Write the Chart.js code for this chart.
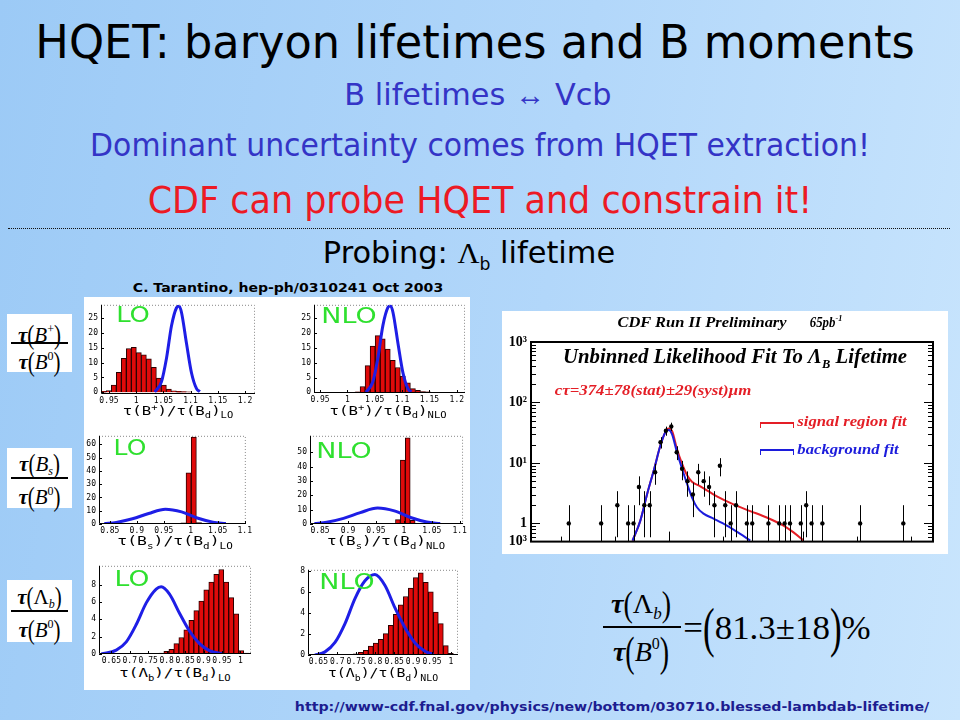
<!DOCTYPE html>
<html>
<head>
<meta charset="utf-8">
<script src="https://cdn.jsdelivr.net/npm/chart.js@4.4.0/dist/chart.umd.min.js"></script>
<style>
html, body { margin: 0; padding: 0; }
body {
    width: 960px; height: 720px; overflow: hidden; position: relative;
    background: linear-gradient(100deg, #9ccaf6 0%, #b2d7fa 55%, #c9e5fd 100%);
    font-family: "DejaVu Sans", sans-serif;
}
.txt { position: absolute; white-space: nowrap; line-height: 1; transform: translate(-50%, -50%); }
.white { position: absolute; background: #fff; }
canvas { position: absolute; }
.green { color: #2fe02f; font-size: 22px; }
.axl { font-family: "DejaVu Sans Mono", monospace; font-size: 12px; color: #000; }
.axl sub { font-size: 8px; }
.axl sup { font-size: 8px; }
.serif { font-family: "Liberation Serif", serif; }
.fbox { position: absolute; background: #fff; display: flex; flex-direction: column; align-items: center; justify-content: center; font-family: "Liberation Serif", serif; font-size: 21px; }
.fr { height: 25px; line-height: 25px; white-space: nowrap; }
.fl { width: 57px; height: 1.5px; background: #000; }
.p { display: inline-block; transform: scaleY(1.3); }
.t { font-style: italic; font-weight: bold; }
.fr sup { font-size: 12px; vertical-align: 9px; }
.fr sub { font-size: 12px; vertical-align: -4px; }
.leg { position: absolute; height: 4px; width: 32px; border-style: solid; border-width: 2px 1.5px 0 1.5px; }
</style>
</head>
<body>

<!-- heading texts -->
<div class="txt fit" data-w="880" style="left:475px;top:42px;font-size:46px;color:#000">HQET: baryon lifetimes and B moments</div>
<div class="txt fit" data-w="267" style="left:478px;top:95px;font-size:30px;color:#3434c6">B lifetimes <span class="serif">&harr;</span> Vcb</div>
<div class="txt fit" data-w="780" style="left:480px;top:145px;font-size:32px;color:#3434c6">Dominant uncertainty comes from HQET extraction!</div>
<div class="txt fit" data-w="664" style="left:480px;top:200px;font-size:38px;color:#ec1a24">CDF can probe HQET and constrain it!</div>
<div style="position:absolute;left:8px;top:228px;width:942px;border-top:1.5px dotted #111"></div>
<div class="txt fit" data-w="292" style="left:469px;top:255px;font-size:30px;color:#000">Probing: <span class="serif">&Lambda;</span><sub style="font-size:17px">b</sub> lifetime</div>
<div class="txt fit" data-w="310" style="left:288px;top:288px;font-size:12px;font-weight:bold;color:#000">C. Tarantino, hep-ph/0310241 Oct 2003</div>

<!-- left formula boxes -->
<div class="fbox" style="left:7px;top:314px;width:65px;height:58px">
  <div class="fr"><span class="t">&tau;</span><span class="p">(</span><i>B</i><sup>+</sup><span class="p">)</span></div>
  <div class="fl"></div>
  <div class="fr"><span class="t">&tau;</span><span class="p">(</span><i>B</i><sup>0</sup><span class="p">)</span></div>
</div>
<div class="fbox" style="left:7px;top:448px;width:65px;height:60px">
  <div class="fr"><span class="t">&tau;</span><span class="p">(</span><i>B</i><sub><i>s</i></sub><span class="p">)</span></div>
  <div class="fl"></div>
  <div class="fr"><span class="t">&tau;</span><span class="p">(</span><i>B</i><sup>0</sup><span class="p">)</span></div>
</div>
<div class="fbox" style="left:7px;top:580px;width:65px;height:62px">
  <div class="fr"><span class="t">&tau;</span><span class="p">(</span>&Lambda;<sub><i>b</i></sub><span class="p">)</span></div>
  <div class="fl"></div>
  <div class="fr"><span class="t">&tau;</span><span class="p">(</span><i>B</i><sup>0</sup><span class="p">)</span></div>
</div>

<!-- histogram panel -->
<div class="white" style="left:84px;top:297px;width:386px;height:393px"></div>
<canvas id="h1"></canvas>
<canvas id="h2"></canvas>
<canvas id="h3"></canvas>
<canvas id="h4"></canvas>
<canvas id="h5"></canvas>
<canvas id="h6"></canvas>

<div class="txt fit green" data-w="34" style="left:133px;top:315px">LO</div>
<div class="txt fit green" data-w="55" style="left:349px;top:316px">NLO</div>
<div class="txt fit green" data-w="33" style="left:130px;top:448px">LO</div>
<div class="txt fit green" data-w="55" style="left:344px;top:451px">NLO</div>
<div class="txt fit green" data-w="35" style="left:132px;top:579px">LO</div>
<div class="txt fit green" data-w="55" style="left:347px;top:582px">NLO</div>

<div class="txt fit axl" data-w="110" style="left:178px;top:412px">&tau;(B<sup>+</sup>)/&tau;(B<sub>d</sub>)<sub>LO</sub></div>
<div class="txt fit axl" data-w="117" style="left:388px;top:412px">&tau;(B<sup>+</sup>)/&tau;(B<sub>d</sub>)<sub>NLO</sub></div>
<div class="txt fit axl" data-w="115" style="left:175px;top:543px">&tau;(B<sub>s</sub>)/&tau;(B<sub>d</sub>)<sub>LO</sub></div>
<div class="txt fit axl" data-w="118" style="left:386px;top:543px">&tau;(B<sub>s</sub>)/&tau;(B<sub>d</sub>)<sub>NLO</sub></div>
<div class="txt fit axl" data-w="111" style="left:175px;top:675px">&tau;(&Lambda;<sub>b</sub>)/&tau;(B<sub>d</sub>)<sub>LO</sub></div>
<div class="txt fit axl" data-w="110" style="left:383px;top:675px">&tau;(&Lambda;<sub>b</sub>)/&tau;(B<sub>d</sub>)<sub>NLO</sub></div>

<!-- CDF plot -->
<div class="white" style="left:502px;top:311px;width:446px;height:243px"></div>
<canvas id="cdf"></canvas>
<div class="txt fit serif" data-w="169" style="left:702px;top:323px;font-size:14px;font-weight:bold;font-style:italic">CDF Run II Preliminary</div>
<div class="txt fit serif" data-w="33" style="left:826px;top:322px;font-size:14px;font-weight:bold;font-style:italic">65pb<sup style="font-size:9px">-1</sup></div>
<div class="txt fit serif" data-w="344" style="left:735px;top:358px;font-size:20px;font-weight:bold;font-style:italic">Unbinned Likelihood Fit To &Lambda;<sub style="font-size:12px">B</sub> Lifetime</div>
<div class="txt fit serif" data-w="197" style="left:653px;top:391px;font-size:14px;font-weight:bold;font-style:italic;color:#e41e26">c&tau;=374&plusmn;78(stat)&plusmn;29(syst)&micro;m</div>
<div class="leg" style="left:760px;top:422px;border-color:#e41e26"></div>
<div class="txt fit serif" data-w="109" style="left:852px;top:421px;font-size:15px;font-weight:bold;font-style:italic;color:#e41e26">signal region fit</div>
<div class="leg" style="left:760px;top:449px;border-color:#1c1cdc"></div>
<div class="txt fit serif" data-w="101" style="left:848px;top:449px;font-size:15px;font-weight:bold;font-style:italic;color:#1c1cdc">background fit</div>

<!-- result formula -->
<div class="txt serif" style="left:641px;top:606px;font-size:28px"><span class="t">&tau;</span><span class="p">(</span>&Lambda;<sub style="font-size:17px;vertical-align:-6px"><i>b</i></sub><span class="p">)</span></div>
<div style="position:absolute;left:603px;top:626px;width:78px;height:2px;background:#000"></div>
<div class="txt serif" style="left:641px;top:651px;font-size:28px"><span class="t">&tau;</span><span class="p" style="transform:scaleY(1.5)">(</span><i>B</i><sup style="font-size:16px;vertical-align:12px">0</sup><span class="p" style="transform:scaleY(1.5)">)</span></div>
<div class="txt fit serif" data-w="187" style="left:777px;top:628px;font-size:34px">=<span class="p" style="transform:scaleY(1.6)">(</span>81.3&plusmn;18<span class="p" style="transform:scaleY(1.6)">)</span>%</div>

<div class="txt fit" data-w="635" style="left:612px;top:706px;font-size:13px;font-weight:bold;color:#1d1d90">http://www-cdf.fnal.gov/physics/new/bottom/030710.blessed-lambdab-lifetime/</div>

<script>
// ---- tick values / labels ----
const bpTickVals = [0.95, 1, 1.05, 1.1, 1.15, 1.2];
const bpTickLabels = ['0.95', '1', '1.05', '1.1', '1.15', '1.2'];
const bsTickVals = [0.85, 0.9, 0.95, 1, 1.05, 1.1];
const bsTickLabels = ['0.85', '0.9', '0.95', '1', '1.05', '1.1'];
const lbTickVals = [0.65, 0.7, 0.75, 0.8, 0.85, 0.9, 0.95, 1];
const lbTickLabels = ['0.65', '0.7', '0.75', '0.8', '0.85', '0.9', '0.95', '1'];
const bpYTicks = [0, 5, 10, 15, 20, 25];
const bsLoYTicks = [0, 10, 20, 30, 40, 50, 60];
const bsNloYTicks = [0, 10, 20, 30, 40, 50];
const lbYTicks = [0, 2, 4, 6, 8];

// ---- histograms (bin centre / count) ----
const bpLoBinX = [0.9405, 0.9497, 0.9589, 0.9681, 0.9773, 0.9865, 0.9957, 1.0049, 1.0141, 1.0233, 1.0325, 1.0417, 1.0509, 1.0601, 1.0693, 1.0785, 1.0877, 1.0969];
const bpLoBinY = [0.3, 0.6, 2.4, 6.7, 11.5, 14.8, 15.2, 13.4, 12.7, 11.3, 8.4, 4.8, 2.4, 1.1, 0.5, 0.3, 0.2, 0.1];
const bpNloBinX = [1.0186, 1.0278, 1.037, 1.0462, 1.0554, 1.0646, 1.0738, 1.083, 1.0922, 1.1014, 1.1106, 1.1198, 1.129, 1.1382, 1.1474];
const bpNloBinY = [0.2, 2, 9, 15.6, 19.1, 18, 14.6, 10.8, 8.4, 5.5, 3.2, 1.3, 0.7, 0.3, 0.2];
const bsLoBinX = [0.9864, 0.996, 1.0056, 1.0152];
const bsLoBinY = [0.8, 38.6, 65.5, 1];
const bsNloBinX = [0.9806, 0.9894, 0.9982, 1.007, 1.0158, 1.0246];
const bsNloBinY = [0.4, 3, 44.5, 60, 2.6, 0.5];
const lbLoBinX = [0.7722, 0.7857, 0.7992, 0.8128, 0.8263, 0.8398, 0.8533, 0.8669, 0.8804, 0.8939, 0.9074, 0.921, 0.9345, 0.948, 0.9615, 0.975, 0.9886, 1.0021, 1.0156];
const lbLoBinY = [0.05, 0.1, 0.3, 0.55, 1.2, 1.9, 2.8, 3.9, 5.0, 6.1, 7.4, 8.3, 9.2, 9.75, 8.3, 6.5, 4.65, 0.4, 0.1];
const lbNloBinX = [0.7226, 0.7358, 0.7489, 0.7621, 0.7753, 0.7885, 0.8017, 0.8149, 0.8281, 0.8413, 0.8545, 0.8677, 0.8809, 0.8941, 0.9073, 0.9204, 0.9336, 0.9468, 0.96, 0.9732, 0.9864, 0.9996];
const lbNloBinY = [0.05, 0.06, 0.12, 0.25, 0.45, 0.85, 1.15, 1.5, 2.05, 2.85, 3.9, 4.8, 5.6, 6.4, 7.4, 7.85, 6.95, 6.05, 4.1, 3.0, 0.9, 0.15];

// ---- measured curves (blue) ----
const bpCurveX = [1.034, 1.0464, 1.0557, 1.0649, 1.0741, 1.0787, 1.0833, 1.0925, 1.1017, 1.1109, 1.117];
const bpCurveY = [0.1, 3.5, 11.5, 22.5, 28.6, 29.2, 27, 16.5, 6.5, 1.2, 0.2];
const bsCurveX = [0.84, 0.862, 0.892, 0.922, 0.953, 0.983, 1.012, 1.041, 1.065];
const bsCurveY = [0.3, 1.2, 3.9, 7.9, 11.1, 9.1, 4.5, 1.4, 0.3];
const lbLoCurveX = [0.623, 0.6635, 0.6906, 0.7176, 0.7447, 0.7717, 0.7853, 0.8078, 0.8349, 0.8619, 0.889, 0.916, 0.952];
const lbLoCurveY = [0, 0.45, 1.4, 3.4, 5.9, 7.5, 7.75, 6.9, 4.7, 2.65, 1.2, 0.4, 0];
const lbNloCurveX = [0.6412, 0.6676, 0.694, 0.7204, 0.7467, 0.7731, 0.7995, 0.8259, 0.8523, 0.8787, 0.905, 0.9314, 0.9534];
const lbNloCurveY = [0, 0.3, 1.2, 3.0, 5.4, 7.1, 7.7, 6.65, 4.5, 2.6, 1.15, 0.36, 0.05];

// ---- CDF data (ct in cm, events per bin) ----
const cdfX = [-0.074, -0.050, -0.038, -0.030, -0.026, -0.022, -0.018, -0.014, -0.010, -0.006, -0.002, 0.002, 0.006, 0.010, 0.014, 0.018, 0.022, 0.026, 0.030, 0.034, 0.038, 0.042, 0.046, 0.050, 0.058, 0.062, 0.074, 0.082, 0.086, 0.090, 0.098, 0.102, 0.106, 0.114, 0.142, 0.174];
const cdfY = [1, 1, 2, 1, 1, 4, 2, 2, 7, 22, 34, 40, 15, 8, 5, 3, 7, 5, 4, 2, 9, 2, 1, 2, 1, 1, 1, 1, 1, 1, 1, 2, 1, 1, 1, 1];
const cdfErr = [1, 1, 1.41, 1, 1, 2, 1.41, 1.41, 2.65, 4.69, 5.83, 6.32, 3.87, 2.83, 2.24, 1.73, 2.65, 2.24, 2, 1.41, 3, 1.41, 1, 1.41, 1, 1, 1, 1, 1, 1, 1, 1.41, 1, 1, 1, 1];
const sigFitX = [-0.0267, -0.021, -0.016, -0.0106, -0.0062, -0.0025, 0, 0.0025, 0.0062, 0.0099, 0.0136, 0.0173, 0.0235, 0.0358, 0.0481, 0.0605, 0.0728, 0.0852, 0.0926, 0.1];
const sigFitY = [0.52, 1.1, 3, 8.1, 19, 32, 37, 34, 17, 9.8, 6.3, 4.9, 4.1, 2.8, 2.06, 1.6, 1.25, 0.92, 0.71, 0.52];
const bkgFitX = [-0.0267, -0.021, -0.016, -0.0106, -0.0062, -0.0025, 0, 0.0025, 0.0062, 0.0099, 0.0136, 0.0173, 0.021, 0.0259, 0.0333, 0.0432, 0.0531, 0.0605];
const bkgFitY = [0.52, 1.1, 3, 8.1, 19, 31.8, 35, 30, 15, 8.1, 4.6, 2.7, 1.85, 1.45, 1.2, 0.92, 0.67, 0.52];
const cdfYTickVals = [0.5, 1, 10, 100, 1000];
const cdfYTickLabels = ['10\u00b3', '1', '10\u00b9', '10\u00b2', '10\u00b3'];
const cdfXMajor = [0, 0.1];
const cdfXMinor = [-0.08, -0.04, 0.04, 0.14, 0.18];

Chart.defaults.animation = false;

function pts(xs, ys) {
    return xs.map((x, i) => ({ x: x, y: ys[i] }));
}

// Draw the Mathematica-style frame: solid left/bottom, dotted top/right
const panelFrame = {
    id: 'panelFrame',
    afterDraw(chart) {
        const ctx = chart.ctx, a = chart.chartArea;
        ctx.save();
        ctx.strokeStyle = '#888';
        ctx.lineWidth = 1;
        ctx.setLineDash([1, 2]);
        ctx.beginPath();
        ctx.moveTo(a.left, a.top + 0.5);
        ctx.lineTo(a.right - 0.5, a.top + 0.5);
        ctx.lineTo(a.right - 0.5, a.bottom);
        ctx.stroke();
        ctx.setLineDash([]);
        ctx.strokeStyle = '#000';
        ctx.beginPath();
        ctx.moveTo(a.left + 0.5, a.top);
        ctx.lineTo(a.left + 0.5, a.bottom - 0.5);
        ctx.lineTo(a.right, a.bottom - 0.5);
        chart.scales.x.ticks.forEach(t => {
            const px = Math.round(chart.scales.x.getPixelForValue(t.value)) + 0.5;
            ctx.moveTo(px, a.bottom);
            ctx.lineTo(px, a.bottom - 3);
        });
        chart.scales.y.ticks.forEach(t => {
            const py = Math.round(chart.scales.y.getPixelForValue(t.value)) + 0.5;
            ctx.moveTo(a.left, py);
            ctx.lineTo(a.left + 3, py);
        });
        ctx.stroke();
        ctx.restore();
    }
};

function makeHist(id, box, binX, binY, curveX, curveY, xRange, yRange, xTicks, xLabels, yTicks) {
    const padL = 17, padR = 4, padT = 3, padB = 12;
    const cv = document.getElementById(id);
    const w = box[2] - box[0] + padL + padR;
    const h = box[3] - box[1] + padT + padB;
    cv.width = w; cv.height = h;
    cv.style.width = w + 'px'; cv.style.height = h + 'px';
    cv.style.left = (box[0] - padL) + 'px';
    cv.style.top = (box[1] - padT) + 'px';
    const tickFont = { family: 'DejaVu Sans Mono', size: 8 };
    return new Chart(cv, {
        type: 'bar',
        data: {
            datasets: [
                {
                    type: 'line', data: pts(curveX, curveY), order: 0,
                    borderColor: '#1e1ee6', borderWidth: 3, pointRadius: 0,
                    cubicInterpolationMode: 'monotone', fill: false
                },
                {
                    type: 'bar', data: pts(binX, binY), order: 1,
                    backgroundColor: '#e00a0a', borderColor: '#2a0000', borderWidth: 1,
                    barPercentage: 1, categoryPercentage: 1
                }
            ]
        },
        options: {
            responsive: false, events: [],
            layout: { padding: { top: padT, right: padR, left: 0, bottom: 0 } },
            plugins: { legend: { display: false }, tooltip: { enabled: false } },
            scales: {
                x: {
                    type: 'linear', min: xRange[0], max: xRange[1], offset: false,
                    grid: { display: false, drawTicks: false, offset: false }, border: { display: false },
                    afterBuildTicks: s => { s.ticks = xTicks.map(v => ({ value: v })); },
                    afterFit: s => { s.height = padB; },
                    ticks: {
                        autoSkip: false, maxRotation: 0, minRotation: 0, padding: 2,
                        font: tickFont, color: '#000',
                        callback: (v, i) => xLabels[i]
                    }
                },
                y: {
                    type: 'linear', min: yRange[0], max: yRange[1],
                    grid: { display: false, drawTicks: false }, border: { display: false },
                    afterBuildTicks: s => { s.ticks = yTicks.map(v => ({ value: v })); },
                    afterFit: s => { s.width = padL; },
                    ticks: { padding: 3, font: tickFont, color: '#000' }
                }
            }
        },
        plugins: [panelFrame]
    });
}

makeHist('h1', [101, 300, 255, 394], bpLoBinX, bpLoBinY, bpCurveX, bpCurveY, [0.9353, 1.2184], [-0.6, 29.6], bpTickVals, bpTickLabels, bpYTicks);
makeHist('h2', [314, 300, 465, 393], bpNloBinX, bpNloBinY, bpCurveX, bpCurveY, [0.939, 1.215], [-0.2, 29.5], bpTickVals, bpTickLabels, bpYTicks);
makeHist('h3', [99, 431, 250, 524], bsLoBinX, bsLoBinY, bsCurveX, bsCurveY, [0.83, 1.102], [0, 66.4], bsTickVals, bsTickLabels, bsLoYTicks);
makeHist('h4', [310, 431, 465, 524], bsNloBinX, bsNloBinY, bsCurveX, bsCurveY, [0.832, 1.106], [0, 61.4], bsTickVals, bsTickLabels, bsNloYTicks);
makeHist('h5', [99, 561, 251, 654], lbLoBinX, lbLoBinY, lbLoCurveX, lbLoCurveY, [0.6166, 1.0287], [0, 10.18], lbTickVals, lbTickLabels, lbYTicks);
makeHist('h6', [308, 565, 458, 655], lbNloBinX, lbNloBinY, lbNloCurveX, lbNloCurveY, [0.6228, 1.0185], [0, 8.15], lbTickVals, lbTickLabels, lbYTicks);

// ---- CDF lifetime plot ----
const cdfDecor = {
    id: 'cdfDecor',
    afterDatasetsDraw(chart) {
        const ctx = chart.ctx, a = chart.chartArea;
        const xs = chart.scales.x, ys = chart.scales.y;
        ctx.save();
        // error bars
        ctx.strokeStyle = '#000';
        ctx.lineWidth = 1;
        ctx.beginPath();
        cdfX.forEach((x, i) => {
            const px = Math.round(xs.getPixelForValue(x)) + 0.5;
            const lo = cdfY[i] - cdfErr[i];
            const yLo = lo > ys.min ? ys.getPixelForValue(lo) : a.bottom;
            const yHi = ys.getPixelForValue(cdfY[i] + cdfErr[i]);
            ctx.moveTo(px, yLo);
            ctx.lineTo(px, yHi);
        });
        ctx.stroke();
        // log ticks on both sides
        ctx.beginPath();
        for (let d = 0.1; d < 1000; d *= 10) {
            for (let m = 1; m <= 9; m++) {
                const v = d * m;
                if (v <= ys.min || v >= ys.max) continue;
                const py = Math.round(ys.getPixelForValue(v)) + 0.5;
                const len = m === 1 ? 9 : 5;
                ctx.moveTo(a.left, py); ctx.lineTo(a.left + len, py);
                ctx.moveTo(a.right, py); ctx.lineTo(a.right - len, py);
            }
        }
        cdfXMajor.forEach(v => {
            const px = Math.round(xs.getPixelForValue(v)) + 0.5;
            ctx.moveTo(px, a.bottom); ctx.lineTo(px, a.bottom - 10);
        });
        cdfXMinor.forEach(v => {
            const px = Math.round(xs.getPixelForValue(v)) + 0.5;
            ctx.moveTo(px, a.bottom); ctx.lineTo(px, a.bottom - 5);
        });
        ctx.stroke();
        // frame
        ctx.lineWidth = 2;
        ctx.strokeRect(a.left, a.top, a.right - a.left, a.bottom - a.top);
        ctx.restore();
    }
};

(function () {
    const cv = document.getElementById('cdf');
    const w = 446, h = 243;
    cv.width = w; cv.height = h;
    cv.style.width = w + 'px'; cv.style.height = h + 'px';
    cv.style.left = '502px'; cv.style.top = '311px';
    new Chart(cv, {
        type: 'scatter',
        data: {
            datasets: [
                {
                    data: pts(cdfX, cdfY), order: 0,
                    pointRadius: 2.2, pointBackgroundColor: '#000', pointBorderWidth: 0
                },
                {
                    type: 'line', data: pts(bkgFitX, bkgFitY), order: 1,
                    borderColor: '#1c1cdc', borderWidth: 2, pointRadius: 0,
                    cubicInterpolationMode: 'monotone', fill: false
                },
                {
                    type: 'line', data: pts(sigFitX, sigFitY), order: 2,
                    borderColor: '#e41e26', borderWidth: 2, pointRadius: 0,
                    cubicInterpolationMode: 'monotone', fill: false
                }
            ]
        },
        options: {
            responsive: false, events: [],
            layout: { padding: { top: 31, right: 15, left: 0, bottom: 10 } },
            plugins: { legend: { display: false }, tooltip: { enabled: false } },
            scales: {
                x: { type: 'linear', min: -0.102, max: 0.196, display: false },
                y: {
                    type: 'logarithmic', min: 0.5, max: 1000,
                    grid: { display: false, drawTicks: false }, border: { display: false },
                    afterBuildTicks: s => { s.ticks = cdfYTickVals.map(v => ({ value: v })); },
                    afterFit: s => { s.width = 29; },
                    ticks: {
                        padding: 4, color: '#000',
                        font: { family: 'Liberation Serif', size: 14, weight: 'bold' },
                        callback: (v, i) => cdfYTickLabels[i]
                    }
                }
            }
        },
        plugins: [cdfDecor]
    });
})();

// squeeze texts horizontally to the widths seen in the slide
function fitTexts() {
    document.querySelectorAll('.fit').forEach(el => {
        el.style.transform = 'translate(-50%, -50%)';
        const target = parseFloat(el.dataset.w);
        const s = target / el.offsetWidth;
        el.style.transform = 'translate(-50%, -50%) scaleX(' + s.toFixed(3) + ')';
    });
}
fitTexts();
if (document.fonts && document.fonts.ready) document.fonts.ready.then(fitTexts);
</script>
</body>
</html>
